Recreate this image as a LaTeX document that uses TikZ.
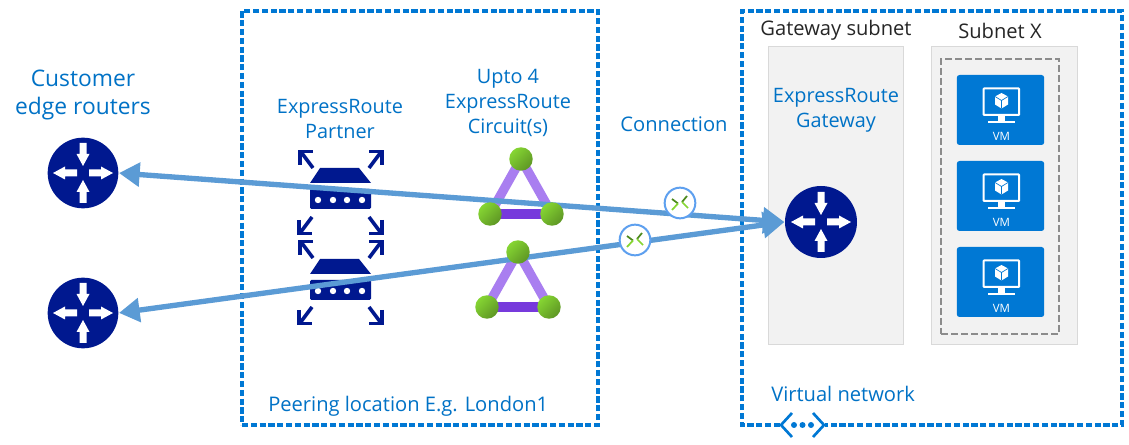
\documentclass[tikz,border=0pt]{standalone}
\usepackage{fontspec}
\setmainfont{Open Sans}
\usetikzlibrary{arrows.meta}
\definecolor{azure}{HTML}{0078D4}
\definecolor{txtblue}{HTML}{0072C6}
\definecolor{navy}{HTML}{00188F}
\definecolor{link}{HTML}{5B9BD5}
\definecolor{panel}{HTML}{F2F2F2}
\definecolor{panelline}{HTML}{D9D9D9}
\definecolor{lilac}{HTML}{A97EF0}
\definecolor{violet}{HTML}{773ADC}
\definecolor{ballA}{HTML}{86D633}
\definecolor{ballB}{HTML}{5E9624}
\definecolor{ringblue}{HTML}{5EA0EF}
\definecolor{dgrey}{HTML}{8C8C8C}
\definecolor{chevdark}{HTML}{4E8A1E}
\definecolor{chevlight}{HTML}{86D633}
\tikzset{
  x=0.75pt,y=-0.75pt,
  lbl/.style={text=txtblue,font=\fontsize{15.1pt}{18.75pt}\selectfont,align=center,inner sep=0pt},
  lblk/.style={text=black!85,font=\fontsize{15.1pt}{18.75pt}\selectfont,align=center,inner sep=0pt},
  zone/.style={draw=azure,line width=2.6pt,dash pattern=on 4.6pt off 2pt},
  subnetbox/.style={draw=panelline,fill=panel,line width=0.75pt,inner sep=0pt,outer sep=0pt,anchor=north west},
  rtr/.style={circle,fill=navy,minimum size=53pt,inner sep=0pt,outer sep=0pt},
  ball/.style={circle,inner sep=0pt,minimum size=17.6pt,top color=ballA,bottom color=ballB,shading angle=45},
  ring/.style={circle,draw=ringblue,fill=white,line width=1.5pt,minimum size=23pt,inner sep=0pt},
  vmbox/.style={fill=azure,rounded corners=2pt,minimum width=65.5pt,minimum height=52.5pt,inner sep=0pt},
  linkline/.style={draw=link,line width=4pt,{Triangle[length=15.5pt,width=17.5pt]}-{Triangle[length=16pt,width=19pt]},shorten <=0.5pt,shorten >=0.5pt},
  cornerarrow/.pic={
    \draw[navy,line width=2.7pt] (-12,-16)--(0,0);
    \draw[navy,line width=2.7pt] (-13,-3)--(-13,-16.5)--(0,-16.5);
  },
  rtrarrow/.pic={
    \fill[white] (0,-7)--(-6.5,-19)--(-3.5,-19)--(-3.5,-30)--(3.5,-30)--(3.5,-19)--(6.5,-19)--cycle;
  },
  rtroutarrow/.pic={
    \fill[white] (0,-30)--(-6.5,-18)--(-3.5,-18)--(-3.5,-6)--(3.5,-6)--(3.5,-18)--(6.5,-18)--cycle;
  },
  rtrglyph/.pic={
    \pic {rtrarrow};
    \pic[rotate=180] {rtrarrow};
    \pic[rotate=90] {rtroutarrow};
    \pic[rotate=-90] {rtroutarrow};
  },
  partnerglyph/.pic={
    \fill[navy] (-21,0)--(-31,15)--(30,15)--(18,0)--cycle;
    \fill[navy,rounded corners=1pt] (-31,21) rectangle (30,41);
    \foreach \dx in {-23,-8,6,21} \fill[white] (\dx,32) circle (3.2);
  },
  vmglyph/.pic={
    \draw[white,line width=1.5pt,rounded corners=0.5pt] (-17.5,-21.5) rectangle (18,5);
    \fill[white] (-3,5) rectangle (4,11);
    \fill[white] (-13,11.5) rectangle (14,13.5);
    \fill[white] (0.5,-17)--(7,-13.5)--(7,-5.5)--(0.5,-1.5)--(-6,-5.5)--(-6,-13.5)--cycle;
    \draw[azure,line width=0.5pt] (-6,-13.5)--(0.5,-9.5)--(7,-13.5) (0.5,-9.5)--(0.5,-1.5);
    \node[text=white,inner sep=0pt,font=\fontsize{8.6pt}{9pt}\selectfont] at (0.5,26) {VM};
  },
  chev/.pic={
    \draw[chevdark,line width=1.3pt] (-8,-4)--(-2,0.5);
    \draw[chevlight,line width=1.3pt] (-2,0.5)--(-8,7);
    \draw[chevdark,line width=1.3pt] (7,-7)--(2,-1);
    \draw[chevlight,line width=1.3pt] (2,-1)--(8,5);
  }
}
\begin{document}
\begin{tikzpicture}
\useasboundingbox[fill=white] (0,0) rectangle (1129,445);

% zones
\node[zone,anchor=north west,minimum width=267pt,minimum height=310.5pt,inner sep=0pt,outer sep=0pt] (peer) at (242,11) {};
\draw[zone] (780,425)--(742,425)--(742,11)--(1122,11)--(1122,425)--(825,425);

% subnets
\node[subnetbox,minimum width=101.25pt,minimum height=223.5pt] (gwsub) at (768,47) {};
\node[subnetbox,minimum width=109.5pt,minimum height=223.5pt] (subx) at (931,47) {};
\node[draw=dgrey,line width=1.8pt,dash pattern=on 5.5pt off 2pt,anchor=north west,minimum width=88.5pt,minimum height=206.25pt,inner sep=0pt,outer sep=0pt] (vmset) at (941,59) {};

% VMs
\node[vmbox] (vm1) at (1000.5,110) {};
\pic at (1001,110) {vmglyph};
\node[vmbox] (vm2) at (1000.5,196) {};
\pic at (1001,196) {vmglyph};
\node[vmbox] (vm3) at (1000.5,282) {};
\pic at (1001,282) {vmglyph};

% vnet icon
\draw[azure,line width=2pt] (792,413)--(781,425)--(792,437);
\draw[azure,line width=2pt] (813,413)--(824,425)--(813,437);
\fill[azure] (794,425) circle (3) (802.5,425) circle (3) (811,425) circle (3);

% partners
\pic at (341,168) {partnerglyph};
\pic at (341,259) {partnerglyph};
\foreach \yy in {168,258}{
  \pic at (313,\yy) {cornerarrow};
  \pic[xscale=-1] at (369,\yy) {cornerarrow};
}
\foreach \yy in {217,307}{
  \pic[yscale=-1] at (312,\yy) {cornerarrow};
  \pic[xscale=-1,yscale=-1] at (369,\yy) {cornerarrow};
}

% routers
\node[rtr] (r1) at (83,173) {};
\pic at (83,173) {rtrglyph};
\node[rtr] (r2) at (83,313) {};
\pic at (83,313) {rtrglyph};
\node[rtr,minimum size=54pt] (gw) at (821,222) {};
\pic at (821,222) {rtrglyph};

% circuit triangles: coordinates for balls, purple edges
\coordinate (a1) at (521,159);
\coordinate (b1) at (490,214);
\coordinate (c1) at (552,214);
\coordinate (a2) at (518,252);
\coordinate (b2) at (487,307);
\coordinate (c2) at (549,307);
\draw[lilac,line width=7pt] (b1)--(a1)--(c1);
\draw[violet,line width=7pt] (b1)--(c1);
\draw[lilac,line width=7pt] (b2)--(a2)--(c2);
\draw[violet,line width=7pt] (b2)--(c2);

% connectors
\draw[linkline] (r1.east)--(gw.west);
\draw[linkline] (r2.east)--(gw.west);

% balls over the connectors
\node[ball] (ba1) at (a1) {};
\node[ball] (bb1) at (b1) {};
\node[ball] (bc1) at (c1) {};
\node[ball] (ba2) at (a2) {};
\node[ball] (bb2) at (b2) {};
\node[ball] (bc2) at (c2) {};

% connection badges
\node[ring] (cn1) at (680,203) {};
\pic at (680,203) {chev};
\node[ring] (cn2) at (635,240) {};
\pic at (635,240) {chev};

% labels
\node[lbl,font=\fontsize{17.1pt}{21pt}\selectfont] (t1) at (83,95) {Customer\\edge routers};
\node[lbl,font=\fontsize{14.9pt}{18.75pt}\selectfont] (t2) at (340,119) {ExpressRoute\\Partner};
\node[lbl,font=\fontsize{14.9pt}{18.75pt}\selectfont] (t3) at (508,102.5) {Upto 4\\ExpressRoute\\Circuit(s)};
\node[lbl] (t4) at (674,124) {Connection};
\node[lbl,font=\fontsize{14.9pt}{18.75pt}\selectfont] (t5) at (836,110.5) {ExpressRoute\\Gateway};
\node[lblk] (t6) at (836,30.5) {Gateway subnet};
\node[lblk] (t7) at (1000,30.5) {Subnet X};
\node[lbl,anchor=west] (t8) at (268,406) {Peering location E.g. London1};
\node[lbl,anchor=west] (t9) at (771,393.5) {Virtual network};
\end{tikzpicture}
\end{document}
